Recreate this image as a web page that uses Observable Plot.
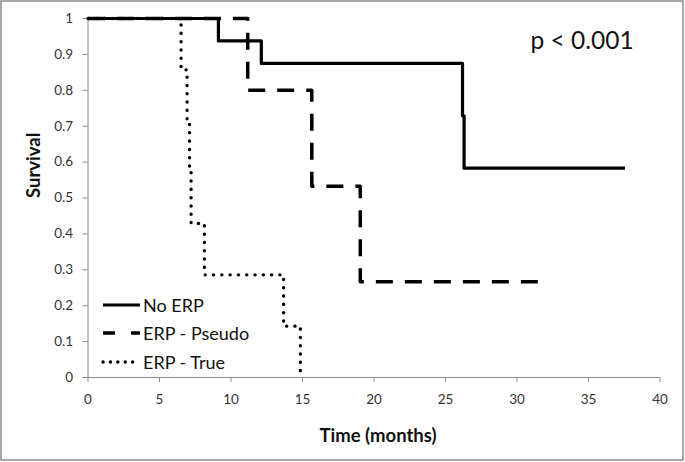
<!DOCTYPE html>
<html>
<head>
<meta charset="utf-8">
<script src="https://cdn.jsdelivr.net/npm/d3@7"></script>
<script src="https://cdn.jsdelivr.net/npm/@observablehq/plot@0.6"></script>
<style>
  html, body { margin: 0; padding: 0; background: #fff; }
  #chart { width: 685px; height: 462px; }
</style>
</head>
<body>
<div id="chart"></div>
<script>
// ---- Data ----
const seriesNames = ["No ERP", "ERP - Pseudo", "ERP - True"];

const noErpTime = [0, 9.12, 12.12, 26.19, 26.3, 37.55];
const noErpSurv = [1, 0.9375, 0.875, 0.729, 0.583, 0.583];

const pseudoTime = [0, 11.17, 15.65, 19.04, 31.7];
const pseudoSurv = [1, 0.8, 0.533, 0.267, 0.267];

const trueTime = [0, 6.51, 6.93, 7.1, 7.21, 8.14, 13.68, 14.85];
const trueSurv = [1, 0.857, 0.714, 0.571, 0.429, 0.286, 0.143, 0];

const xTicks = [0, 5, 10, 15, 20, 25, 30, 35, 40];
const yTicks = [0, 0.1, 0.2, 0.3, 0.4, 0.5, 0.6, 0.7, 0.8, 0.9, 1];
const yTickLabels = ["0", "0.1", "0.2", "0.3", "0.4", "0.5", "0.6", "0.7", "0.8", "0.9", "1"];

const xTitle = "Time (months)";
const yTitle = "Survival";
const pLabel = "p < 0.001";

// ---- Build table ----
const toRows = (name, t, s) => t.map((d, i) => ({series: name, time: d, surv: s[i]}));
const rowsNo = toRows(seriesNames[0], noErpTime, noErpSurv);
const rowsPseudo = toRows(seriesNames[1], pseudoTime, pseudoSurv);
const rowsTrue = toRows(seriesNames[2], trueTime, trueSurv);

const styles = [
  {strokeWidth: 3.2, strokeDasharray: null, strokeLinecap: "butt"},
  {strokeWidth: 3.5, strokeDasharray: "17,12", strokeLinecap: "butt"},
  {strokeWidth: 3.4, strokeDasharray: "0.1,8.2", strokeLinecap: "round"}
];

const FONT = "Lato, 'Open Sans', sans-serif";
const axisGray = "#8a8a8a";
const textCol = "#333";

const plot = Plot.plot({
  width: 685,
  height: 462,
  marginLeft: 87.5,
  marginRight: 25.5,
  marginTop: 18,
  marginBottom: 85,
  style: {fontFamily: FONT, fontSize: "13px", background: "#fff"},
  x: {domain: [0, 40]},
  y: {domain: [0, 1]},
  marks: [
    Plot.ruleX([0], {stroke: axisGray, strokeWidth: 1}),
    Plot.ruleY([0], {stroke: axisGray, strokeWidth: 1}),
    Plot.axisX(xTicks, {tickSize: 5, tickPadding: 12, stroke: axisGray, fill: textCol, fontSize: 13, label: null}),
    Plot.axisY(yTicks, {tickSize: 5, tickPadding: 10, stroke: axisGray, fill: textCol, fontSize: 13, label: null,
      tickFormat: d => yTickLabels[yTicks.findIndex(t => Math.abs(t - d) < 1e-9)]}),
    Plot.line(rowsTrue, {x: "time", y: "surv", curve: "step-after", stroke: "#000", ...styles[2]}),
    Plot.line(rowsPseudo, {x: "time", y: "surv", curve: "step-after", stroke: "#000", ...styles[1]}),
    Plot.line(rowsNo, {x: "time", y: "surv", curve: "step-after", stroke: "#000", ...styles[0]}),
    Plot.text([xTitle], {frameAnchor: "bottom", dx: 4, dy: 59, lineAnchor: "middle", fontSize: 18.5, fontWeight: "bold", fill: "#111"}),
    Plot.text([yTitle], {frameAnchor: "left", dx: -54, dy: 0, rotate: -90, lineAnchor: "middle", fontSize: 18.5, fontWeight: "bold", fill: "#111"}),
    Plot.text([pLabel], {frameAnchor: "top-right", dx: -129.5, dy: 23, textAnchor: "start", lineAnchor: "middle", fontSize: 24.5, fill: "#111"})
  ]
});

document.getElementById("chart").appendChild(plot);

// ---- Legend and outer border (decoration) ----
const svg = d3.select(plot);
svg.selectAll('g[aria-label$="tick label"]').attr("font-size", 13.5).style("font-size", "13.5px");
const legendRows = [305, 333, 362];
const lg = svg.append("g").attr("font-family", FONT).attr("font-size", 18).attr("fill", "#111").attr("text-anchor", "start");
seriesNames.forEach((name, i) => {
  const st = styles[i];
  lg.append("line")
    .attr("x1", 103).attr("x2", 140)
    .attr("y1", legendRows[i]).attr("y2", legendRows[i])
    .attr("stroke", "#000")
    .attr("stroke-width", st.strokeWidth)
    .attr("stroke-dasharray", i === 1 ? "12,16" : (i === 2 ? "0.1,7.3" : null))
    .attr("stroke-linecap", st.strokeLinecap);
  lg.append("text")
    .attr("x", 143).attr("y", legendRows[i] + 1)
    .attr("dy", "0.35em")
    .attr("text-anchor", "start")
    .text(name);
});
svg.append("rect")
  .attr("x", 1).attr("y", 1).attr("width", 682).attr("height", 459)
  .attr("fill", "none").attr("stroke", "#8a8a8a").attr("stroke-width", 1.5);
</script>
</body>
</html>
